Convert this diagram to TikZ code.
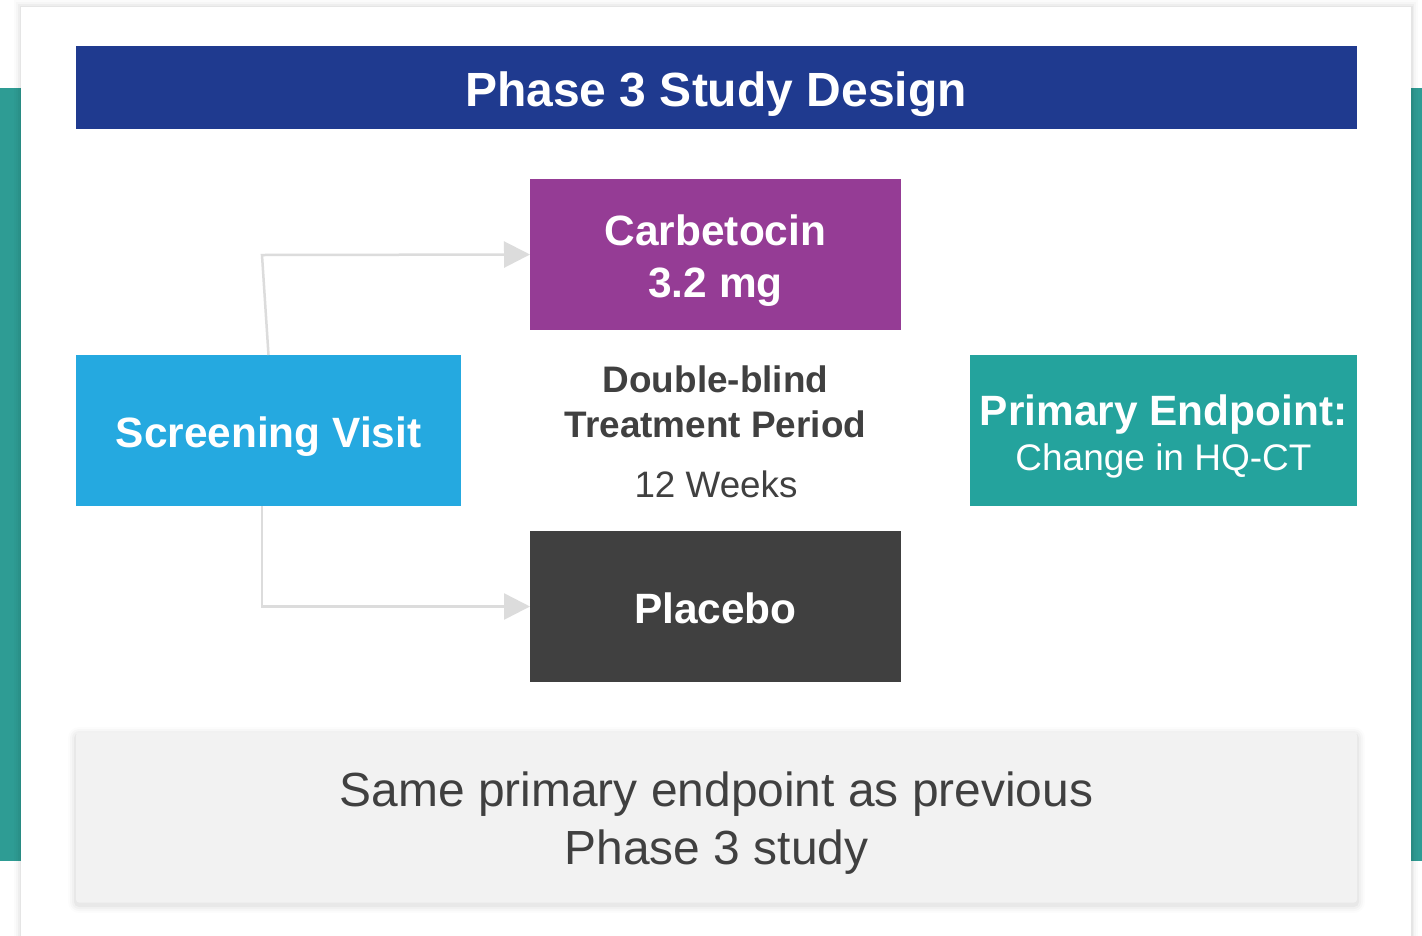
\documentclass[tikz,border=0pt]{standalone}
\usepackage{fontspec}
\setmainfont{Liberation Sans}
\usetikzlibrary{arrows.meta}

\definecolor{bandteal}{HTML}{2E9C94}
\definecolor{titleblue}{HTML}{1F3A8F}
\definecolor{screenblue}{HTML}{25A9E0}
\definecolor{armpurple}{HTML}{953C95}
\definecolor{armgray}{HTML}{404040}
\definecolor{endteal}{HTML}{24A39D}
\definecolor{notegray}{HTML}{F2F2F2}
\definecolor{textdark}{HTML}{404040}
\definecolor{linkgray}{HTML}{DCDCDC}

\begin{document}
\begin{tikzpicture}[x=1pt,y=-1pt,
  panel/.style={rectangle, inner sep=0pt, outer sep=0pt},
  lbl/.style={inner sep=0pt, outer sep=0pt, anchor=base},
  boldlbl/.style={lbl, font=\bfseries\fontsize{42.4}{50}\selectfont, text=white},
  link/.style={draw=linkgray, line width=2.5pt,
    -{Triangle[length=26pt,width=26pt,fill=linkgray]}},
]
\useasboundingbox (0,0) rectangle (1422,935);

% side bands behind the card
\fill[bandteal] (0,88) rectangle (21,861);
\fill[bandteal] (1411,88) rectangle (1422,861);

% soft shadow of the card
\foreach \s/\o in {7/0.015,5/0.02,3/0.03,1.5/0.04}{
  \fill[black, opacity=\o] (21-\s,7-\s) rectangle (1411+\s,940);
}
\fill[white] (21,7) rectangle (1411,940);

% title bar
\node[panel, fill=titleblue, minimum width=1281pt, minimum height=83pt] (title) at (716.5,87.5) {};
\node[lbl, font=\bfseries\fontsize{48}{58}\selectfont, text=white] (titletext) at (716,106) {Phase 3 Study Design};

% screening visit
\node[panel, fill=screenblue, minimum width=385pt, minimum height=151pt] (screen) at (268.5,430.5) {};
\node[boldlbl] (screentext) at (268.5,447) {Screening Visit};

% treatment arms
\node[panel, fill=armpurple, minimum width=371pt, minimum height=151pt] (carb) at (715.5,254.5) {};
\node[boldlbl] (carbtext) at (715.5,245) {Carbetocin};
\node[boldlbl] (carbdose) at (715.5,297) {3.2 mg};

\node[panel, fill=armgray, minimum width=371pt, minimum height=151pt] (placebo) at (715.5,606.5) {};
\node[boldlbl] (placebotext) at (715.5,623) {Placebo};

% treatment period description
\node[lbl, font=\bfseries\fontsize{36.9}{44}\selectfont, text=textdark] (dbtext) at (715.5,392) {Double-blind};
\node[lbl, font=\bfseries\fontsize{36.9}{44}\selectfont, text=textdark] (tptext) at (715.5,437) {Treatment Period};
\node[lbl, font=\fontsize{36.8}{44}\selectfont, text=textdark] (weekstext) at (716,497) {12 Weeks};

% primary endpoint
\node[panel, fill=endteal, minimum width=387pt, minimum height=151pt] (endpoint) at (1163.5,430.5) {};
\node[boldlbl] (endtitle) at (1163.5,425) {Primary Endpoint:};
\node[lbl, font=\fontsize{37}{44}\selectfont, text=white] (endtext) at (1163.5,470) {Change in HQ-CT};

% note box with soft shadow
\foreach \s/\o in {8/0.012,6/0.018,4/0.025,2/0.035}{
  \fill[black, opacity=\o, rounded corners=3pt+\s] (76-\s,733-\s+2) rectangle (1357+\s,903+\s+2);
}
\node[panel, fill=notegray, rounded corners=3pt, minimum width=1281pt, minimum height=170pt] (note) at (716.5,817.5) {};
\node[lbl, font=\fontsize{47.9}{58}\selectfont, text=textdark] (noteone) at (716.5,806) {Same primary endpoint as previous};
\node[lbl, font=\fontsize{47.9}{58}\selectfont, text=textdark] (notetwo) at (716.5,864) {Phase 3 study};

% randomisation connectors
\coordinate (upbend) at (262,255);
\coordinate (downstart) at (262,506);
\coordinate (downbend) at (262,606.5);
\draw[link] (screen.north) -- (upbend) -- (carb.west);
\draw[link] (downstart) -- (downbend) -- (placebo.west);
\end{tikzpicture}
\end{document}
